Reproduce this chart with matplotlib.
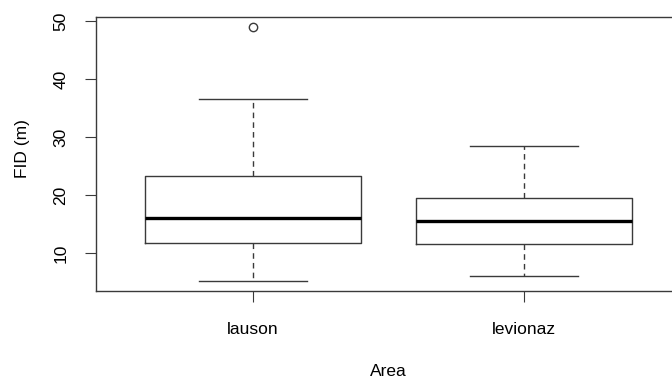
import matplotlib
matplotlib.use("Agg")
import matplotlib.pyplot as plt

plt.rcParams['font.family'] = ['Liberation Sans', 'DejaVu Sans']

# Box statistics
areas = ["lauson", "levionaz"]
whisker_low = [5.2, 6.1]
q1 = [11.8, 11.5]
medians = [16.0, 15.5]
q3 = [23.3, 19.5]
whisker_high = [36.6, 28.5]
outliers = [[49.0], []]
y_ticks = [10, 20, 30, 40, 50]

stats = []
for i, name in enumerate(areas):
    stats.append(dict(label=name, whislo=whisker_low[i], q1=q1[i], med=medians[i],
                      q3=q3[i], whishi=whisker_high[i], fliers=outliers[i]))

fig = plt.figure(figsize=(6.72, 3.81), dpi=100)
ax = fig.add_axes([96 / 672, 1 - 291 / 381, 585 / 672, 274 / 381])

edge = '#3a3a3a'
ax.bxp(stats, positions=[1, 2], widths=0.8, showfliers=True,
       boxprops=dict(color=edge, linewidth=1.0),
       whiskerprops=dict(color=edge, linewidth=1.0, linestyle=(0, (4, 3))),
       capprops=dict(color=edge, linewidth=1.0),
       capwidths=0.4,
       medianprops=dict(color='black', linewidth=2.4),
       flierprops=dict(marker='o', markersize=6, markerfacecolor='none',
                       markeredgecolor=edge, markeredgewidth=1.0))

ax.set_xlim(0.42, 2.58)
ax.set_ylim(3.45, 50.75)
ax.set_yticks(y_ticks)
ax.set_xticks([1, 2])
ax.set_xticklabels(areas)
for lbl in ax.get_yticklabels():
    lbl.set_rotation(90)
    lbl.set_va('center')
ax.tick_params(axis='x', length=8, pad=14, labelsize=12.5, color=edge)
ax.tick_params(axis='y', length=8, pad=12, labelsize=12.5, color=edge)
for sp in ax.spines.values():
    sp.set_color(edge)
    sp.set_linewidth(1.0)

fig.text(388 / 672, 1 - 372 / 381, "Area", ha='center', va='center', fontsize=12.5)
fig.text(22 / 672, 1 - 149 / 381, "FID (m)", ha='center', va='center',
         rotation=90, fontsize=12.5)

fig.savefig("out.png", dpi=100)
